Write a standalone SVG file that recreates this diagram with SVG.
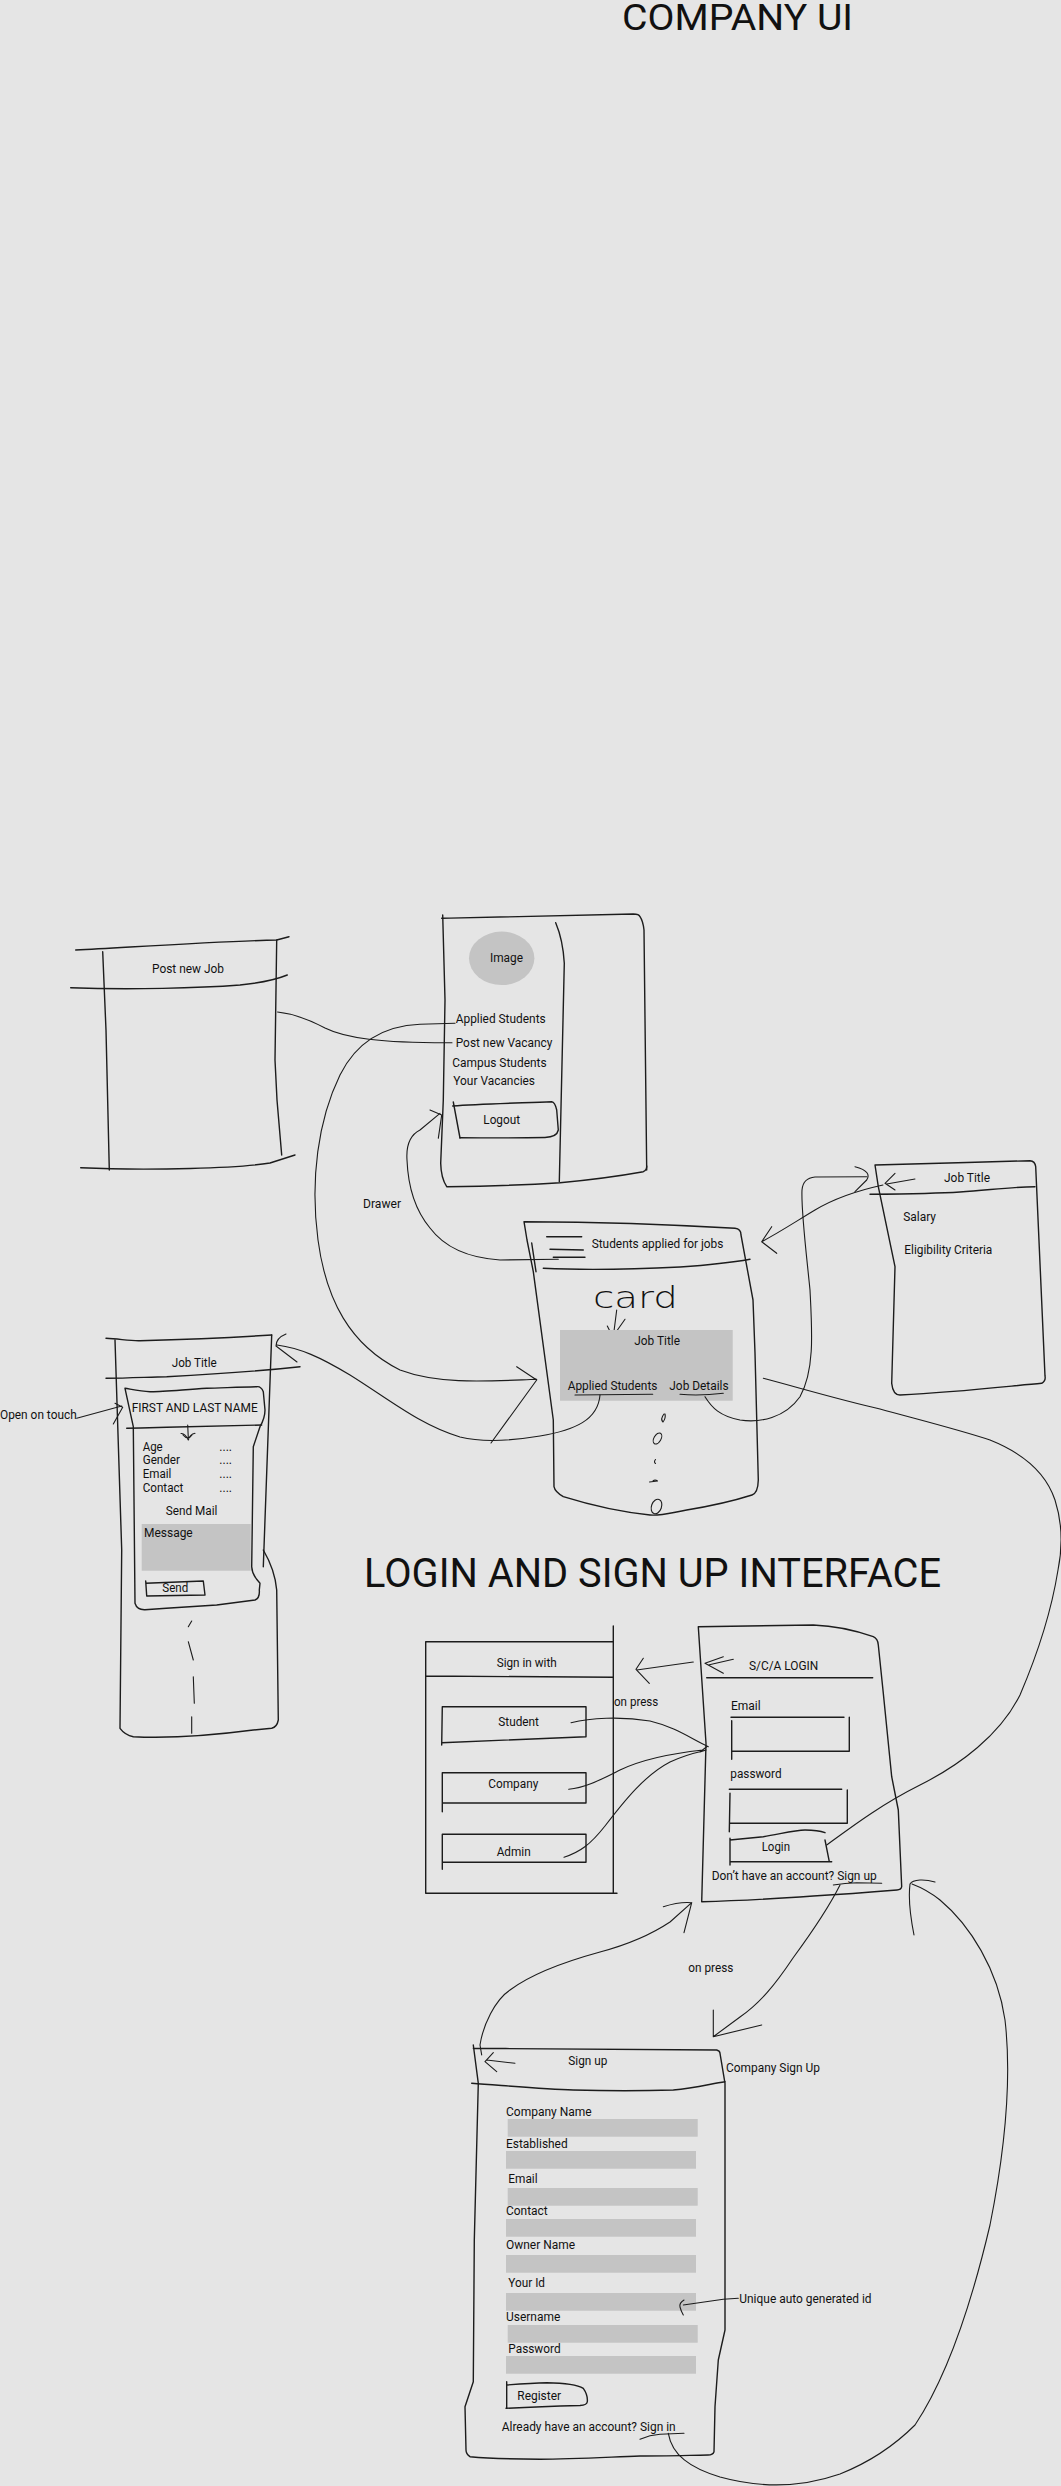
<svg xmlns="http://www.w3.org/2000/svg" width="1061" height="2486" viewBox="0 0 1061 2486">
<style>
.s{fill:none;stroke:#1c1c1c;stroke-width:1.4;stroke-linecap:round;stroke-linejoin:round}
.c{fill:none;stroke:#1c1c1c;stroke-width:1.1;stroke-linecap:round;stroke-linejoin:round}
.g{fill:#c4c4c4;stroke:none}
text{font-family:Roboto,"Liberation Sans",sans-serif;fill:#111;font-size:12px}
.m{text-anchor:middle}
.h{font-size:40px}
</style>
<rect x="0" y="0" width="1061" height="2486" fill="#e5e5e5"/>

<text class="h" x="622" y="29.5" style="font-size:37px" textLength="231" lengthAdjust="spacingAndGlyphs">COMPANY UI</text>
<text class="h" x="364" y="1587" textLength="577" lengthAdjust="spacingAndGlyphs">LOGIN AND SIGN UP INTERFACE</text>

<g id="post-job">
<path class="s" d="M75.7,950 C150,946 230,941 276.7,940 L289,936.7"/>
<path class="s" d="M102.7,951.7 L106,1030 L109.3,1170"/>
<path class="s" d="M276.7,940 L275,1060 L277,1100 L281.7,1155"/>
<path class="s" d="M70.7,987.7 C130,990 200,988 240,985 C260,983 275,980 287.3,975"/>
<path class="s" d="M80.7,1167.7 C150,1171 240,1168 270,1163 L295,1155"/>
<text x="152" y="973" textLength="72" lengthAdjust="spacingAndGlyphs">Post new Job</text>
</g>

<g id="drawer">
<path class="s" d="M441.7,918.3 C520,917 600,915 633.3,914 Q639,914 640,916.7 Q643,921 644,930 L646.7,1170"/>
<path class="s" d="M442.7,915 L445,1000 L443.3,1100 L440.7,1163.3 Q441,1178 446.7,1186.7 C500,1186 540,1184 560,1182.7 C600,1179 625,1175 643.3,1171.7 Q647,1170 646.7,1166"/>
<path class="s" d="M555.7,922.7 Q563,940 564.3,963.3 L559.3,1181.7"/>
<ellipse class="g" cx="501.7" cy="958.3" rx="32.7" ry="26.7"/>
<text x="490" y="962" textLength="33" lengthAdjust="spacingAndGlyphs">Image</text>
<text x="455.7" y="1023.3" textLength="90" lengthAdjust="spacingAndGlyphs">Applied Students</text>
<text x="455.7" y="1046.7" textLength="96.7" lengthAdjust="spacingAndGlyphs">Post new Vacancy</text>
<text x="452.3" y="1066.7" textLength="94.3" lengthAdjust="spacingAndGlyphs">Campus Students</text>
<text x="453.3" y="1085" textLength="81.7" lengthAdjust="spacingAndGlyphs">Your Vacancies</text>
<path class="s" d="M452.7,1106 C480,1104 520,1103 551.7,1101.7 Q555,1102 556.7,1110 L558.3,1130 Q557,1137 545,1137.5 C520,1138 490,1138 460,1137.7"/>
<path class="s" d="M453.3,1102 L460,1138"/>
<text x="483.3" y="1124" textLength="36.7" lengthAdjust="spacingAndGlyphs">Logout</text>
</g>

<g id="card-screen">
<path class="s" d="M524,1221.7 C600,1222 680,1225 735,1228.3 Q741,1229 741,1235 L753,1300 L755,1353 L758.3,1480 Q758,1493 752,1495 C730,1502 705,1507 686.7,1510 C670,1513 660,1516 650,1515 C620,1512 590,1505 563.3,1496.7 Q555,1492 554,1486.7 L553.3,1420 L533.3,1271.7 L527,1240 Z"/>
<path class="s" d="M543.3,1268.3 C580,1270 640,1269 680,1267 C710,1265 735,1262 750,1259.3"/>
<path class="s" d="M531.7,1243 L536,1271.7"/>
<path class="s" d="M546.7,1236.7 L581.7,1236.7 M550,1249.3 L583.3,1250 M553.3,1257.3 L585,1257.3"/>
<text x="591.7" y="1248.3" textLength="131.7" lengthAdjust="spacingAndGlyphs">Students applied for jobs</text>
<text x="593" y="1308" style="font-family:'DejaVu Sans',sans-serif;font-size:30px;font-weight:200" textLength="85" lengthAdjust="spacingAndGlyphs">card</text>
<path class="c" d="M616.7,1310 L613.3,1336.7 M607.3,1326 L612.7,1336.7 L625,1319.3"/>
<rect class="g" x="560" y="1330" width="172.7" height="70.7"/>
<text x="634.3" y="1345" textLength="45.7" lengthAdjust="spacingAndGlyphs">Job Title</text>
<text x="567.7" y="1390" textLength="89.7" lengthAdjust="spacingAndGlyphs">Applied Students</text>
<text x="669.3" y="1390" textLength="59.3" lengthAdjust="spacingAndGlyphs">Job Details</text>
<path class="c" d="M575,1395 L652.7,1394.3 M680,1394.3 Q700,1396 723.3,1393.3"/>
<path class="c" d="M664,1414 Q660,1419 663,1422 Q666,1418 665,1414"/>
<ellipse class="c" cx="657.5" cy="1438.5" rx="3.5" ry="6" transform="rotate(30 657.5 1438.5)"/>
<path class="c" d="M655.5,1459.5 Q653.5,1462 655.5,1463.5"/>
<path class="c" d="M649.5,1482 L657.5,1481 Q655,1479 653,1481"/>
<ellipse class="c" cx="656.5" cy="1506.5" rx="5" ry="7.5" transform="rotate(20 656.5 1506.5)"/>
</g>

<g id="job-details">
<path class="s" d="M875,1165 L878.3,1186.7 L895,1266.7 L891.7,1383.3 Q893,1395 900,1395 C960,1392 1010,1386 1041.7,1383.3 Q1046,1381 1045,1376 L1035.7,1166.7 Q1035,1161 1030,1160.7 C980,1162 920,1164 875,1165 Z"/>
<path class="s" d="M870,1194.3 C900,1194 940,1193.3 960,1192 C990,1190 1010,1187 1035,1186.7"/>
<text x="944" y="1181.7" textLength="46" lengthAdjust="spacingAndGlyphs">Job Title</text>
<text x="903.3" y="1221" textLength="32.7" lengthAdjust="spacingAndGlyphs">Salary</text>
<text x="904.3" y="1254" textLength="88" lengthAdjust="spacingAndGlyphs">Eligibility Criteria</text>
</g>

<g id="applicants">
<path class="s" d="M106,1338.3 C120,1339 130,1341 140,1340.7 C200,1339 240,1337 271.7,1335"/>
<path class="s" d="M115,1340 L121.7,1550 L120,1728.3 Q125,1735 133.3,1736.7 C160,1738 200,1737 253.3,1730 L271.7,1728.3 Q277,1727 278.3,1720 L276.7,1590 Q275,1570 263.3,1550"/>
<path class="s" d="M271.7,1335 L263.3,1566.7"/>
<path class="s" d="M106,1378.3 C130,1378 150,1377 166.7,1376.7 C220,1374 270,1370 300,1366.7"/>
<text x="171.7" y="1366.7" textLength="45" lengthAdjust="spacingAndGlyphs">Job Title</text>
<path class="s" d="M125,1388.3 L133.3,1426.7 L135,1603.3 Q137,1610 145,1609.7 C170,1608 200,1606 216.7,1605 L255,1600 Q260,1598 259.3,1590 L260,1583.3 Q252,1575 251.7,1566.7 L253.3,1446.7 L260,1426.7 Q265,1418 265,1410 L263.3,1391.7 Q261,1386 256.7,1386.7 C240,1387 220,1388 206.7,1388.3 C180,1390 160,1392 150,1391.7 C140,1391 130,1389 125,1388.3"/>
<path class="s" d="M126.7,1428.3 C140,1428 155,1427.5 166.7,1427.3 L261.7,1425"/>
<text x="131.7" y="1412.3" textLength="126" lengthAdjust="spacingAndGlyphs">FIRST AND LAST NAME</text>
<path class="c" d="M187.7,1425 L188.3,1438 M181,1433.5 Q185,1433 188.3,1440 Q190,1434 195,1433.3 M183,1435 Q188,1441 192,1435"/>
<text x="142.7" y="1450.7" textLength="20" lengthAdjust="spacingAndGlyphs">Age</text>
<text x="142.7" y="1464.3" textLength="37.3" lengthAdjust="spacingAndGlyphs">Gender</text>
<text x="142.7" y="1478.3" textLength="28.7" lengthAdjust="spacingAndGlyphs">Email</text>
<text x="142.7" y="1492.3" textLength="40.7" lengthAdjust="spacingAndGlyphs">Contact</text>
<text x="219.3" y="1450.7">....</text>
<text x="219.3" y="1464.3">....</text>
<text x="219.3" y="1478.3">....</text>
<text x="219.3" y="1492.3">....</text>
<text x="165.7" y="1515" textLength="51.7" lengthAdjust="spacingAndGlyphs">Send Mail</text>
<rect class="g" x="141.7" y="1524" width="109" height="46.7"/>
<text x="144" y="1537.3" textLength="48.7" lengthAdjust="spacingAndGlyphs">Message</text>
<path class="s" d="M145.7,1583.3 L203.3,1581 L205,1595 L146.7,1596 M145.7,1581 L146.7,1596"/>
<text x="162.3" y="1591.7" textLength="26" lengthAdjust="spacingAndGlyphs">Send</text>
<path class="c" d="M191.7,1621 L188.3,1626.7 M188.3,1641.7 L193.3,1660 M193.3,1676.7 L194.3,1703.3 M191.7,1716.7 L191.7,1733.3"/>
<text x="0" y="1419" textLength="76.7" lengthAdjust="spacingAndGlyphs">Open on touch</text>
</g>

<g id="sign-in-with">
<path class="s" d="M425.7,1641.7 L613.3,1641.7 M613.3,1626 L613.3,1893.3 M425.7,1641.7 L425.7,1893.3 L617,1893.3 M425.7,1676 L613.3,1677.3"/>
<text x="496.7" y="1667.3" textLength="60" lengthAdjust="spacingAndGlyphs">Sign in with</text>
<path class="s" d="M442.3,1706.7 L586,1706.7 L586,1736.7 L441.7,1742.7 M442.3,1706.7 L441.7,1745"/>
<text x="498.3" y="1726" textLength="40.7" lengthAdjust="spacingAndGlyphs">Student</text>
<path class="s" d="M442.3,1772.7 L586,1772.7 L586,1803 L442.3,1803 M442.3,1772.7 L442.3,1811.7"/>
<text x="488.3" y="1788.3" textLength="50" lengthAdjust="spacingAndGlyphs">Company</text>
<path class="s" d="M442.3,1834.3 L586,1834.3 L586,1862.3 L442.3,1862.3 M442.3,1834.3 L442.3,1869.3"/>
<text x="496.7" y="1856" textLength="34" lengthAdjust="spacingAndGlyphs">Admin</text>
</g>

<g id="login">
<path class="s" d="M698.3,1626.7 C720,1626.5 760,1625.5 813.3,1625 C840,1626 860,1632 873.3,1636.7 Q878,1639 878.3,1645 L883.3,1693.3 L891.7,1776.7 L898.3,1810 L901.7,1886.7 Q901,1890 897,1890 C860,1893 830,1895 813.3,1896 C770,1899 730,1901 701.7,1901.7 L706,1743.3 Z"/>
<path class="s" d="M706.7,1677.7 L872.7,1677.7"/>
<path class="c" d="M733.3,1659.3 L708.3,1665 M723.3,1656.7 L705,1663.3 L723.3,1673.3"/>
<text x="749" y="1670" textLength="69.3" lengthAdjust="spacingAndGlyphs">S/C/A LOGIN</text>
<text x="731" y="1710" textLength="29.7" lengthAdjust="spacingAndGlyphs">Email</text>
<path class="s" d="M731,1717.3 L844,1717.3 M849.3,1717.3 L849.3,1751.3 L731.7,1751.3 M731.7,1720.7 L731.7,1759.3"/>
<text x="730.3" y="1778.3" textLength="51.3" lengthAdjust="spacingAndGlyphs">password</text>
<path class="s" d="M729.3,1789.3 L841.7,1789.3 M847.3,1790 L847.3,1823.3 L730,1823.3 M730,1793.3 L729.3,1831.7"/>
<path class="s" d="M730,1840 C745,1838.5 755,1837.5 763.3,1836.7 C780,1834 795,1830 805,1830 Q818,1830 825,1832.7 M730,1838.3 L730,1865 M730,1861.7 L831.7,1861.7 M825,1840 L829.3,1861.7"/>
<text x="761.7" y="1850.7" textLength="28.3" lengthAdjust="spacingAndGlyphs">Login</text>
<text x="711.7" y="1880" textLength="165" lengthAdjust="spacingAndGlyphs">Don’t have an account? Sign up</text>
<path class="c" d="M833.3,1885 Q845,1883 856.7,1882.7 L881.7,1883.3"/>
</g>

<g id="signup">
<path class="s" d="M473.3,2048.3 C560,2049 650,2050 716.7,2050 Q720,2051 720,2053.3 L725,2083.3 L725,2330 L718.3,2360 L715,2406.7 L714,2451.7 Q713,2455 708,2455 C680,2455.5 660,2456 640,2456 C600,2457.5 570,2459 540,2459.3 C510,2459 485,2458 470,2456.7 Q466,2454 466,2450 L465,2406.7 L473.3,2381.7 L474.3,2240 L478.3,2083.3 L473.3,2045"/>
<path class="s" d="M471.7,2083.3 C510,2086 545,2089 573.3,2090 C610,2091 640,2091 673.3,2090 C695,2088 710,2084 725,2081.7"/>
<path class="c" d="M515,2063.3 L486.7,2060 M493.3,2052.7 L485,2061.7 L496.7,2071.7"/>
<text x="568.3" y="2065" textLength="39" lengthAdjust="spacingAndGlyphs">Sign up</text>
<text x="506" y="2116" textLength="85.7" lengthAdjust="spacingAndGlyphs">Company Name</text>
<rect class="g" x="507.7" y="2119" width="190" height="17.7"/>
<text x="506" y="2147.7" textLength="61.7" lengthAdjust="spacingAndGlyphs">Established</text>
<rect class="g" x="506" y="2151" width="190" height="17.7"/>
<text x="508.3" y="2182.7" textLength="29.3" lengthAdjust="spacingAndGlyphs">Email</text>
<rect class="g" x="507.7" y="2188" width="190" height="17.7"/>
<text x="506" y="2215" textLength="41.7" lengthAdjust="spacingAndGlyphs">Contact</text>
<rect class="g" x="506" y="2219" width="190" height="17.7"/>
<text x="506" y="2249" textLength="69" lengthAdjust="spacingAndGlyphs">Owner Name</text>
<rect class="g" x="506" y="2255" width="190" height="17.7"/>
<text x="508.3" y="2286.7" textLength="36.7" lengthAdjust="spacingAndGlyphs">Your Id</text>
<rect class="g" x="506" y="2293" width="190" height="17.7"/>
<text x="506" y="2321" textLength="54.3" lengthAdjust="spacingAndGlyphs">Username</text>
<rect class="g" x="507.7" y="2325" width="190" height="17.7"/>
<text x="508.3" y="2352.7" textLength="52.3" lengthAdjust="spacingAndGlyphs">Password</text>
<rect class="g" x="506" y="2356" width="190" height="17.7"/>
<path class="s" d="M506.7,2381.7 L506.7,2408.3 M506.7,2385 C520,2384 535,2383 546.7,2382.7 C565,2383 578,2385 583.3,2388.3 Q588,2395 587.3,2401.7 Q587,2405 580,2405.5 C560,2406 530,2407 506,2408.3"/>
<text x="517.3" y="2400" textLength="43.7" lengthAdjust="spacingAndGlyphs">Register</text>
<text x="501.7" y="2430.7" textLength="174" lengthAdjust="spacingAndGlyphs">Already have an account? Sign in</text>
<path class="c" d="M640,2439.3 Q650,2435 660,2434.3 L684,2433.3"/>
<text x="726" y="2071.7" textLength="94" lengthAdjust="spacingAndGlyphs">Company Sign Up</text>
<text x="739.3" y="2303.3" textLength="132.3" lengthAdjust="spacingAndGlyphs">Unique auto generated id</text>
</g>

<g id="connectors">
<text x="363" y="1208" textLength="38" lengthAdjust="spacingAndGlyphs">Drawer</text>
<text x="614" y="1706" textLength="44.3" lengthAdjust="spacingAndGlyphs">on press</text>
<text x="688.3" y="1971.7" textLength="45" lengthAdjust="spacingAndGlyphs">on press</text>
<path class="c" d="M277.5,1012 C295,1014 310,1020 325,1028 C345,1038 380,1043 452,1042.7"/>
<path class="c" d="M455,1023.3 L420,1024.3 C380,1026 355,1045 340,1075 C318,1120 310,1180 318,1240 C326,1300 350,1345 400,1370 C440,1385 490,1381 536.7,1379.3 M516.7,1366.7 L536.7,1380 L491,1443"/>
<path class="c" d="M558.3,1259.3 L500,1260 C470,1258 445,1248 430,1228 C415,1210 408,1185 407,1160 C406,1145 410,1135 420,1130 L440,1113.3 M430,1110 L441.7,1115 L438.3,1138.3"/>
<path class="c" d="M600,1395 C598,1420 575,1430 540,1436 C510,1441 480,1442 460,1437 C420,1425 390,1400 350,1375 C320,1357 300,1348 277,1345 M286,1334 Q276,1338 276,1346 L297,1362"/>
<path class="c" d="M705,1396.7 C712,1408 720,1416 740,1420 C760,1423 785,1418 800,1396.7 C815,1370 812,1330 810,1290 C806,1250 801,1210 802,1190 Q803,1178 815,1177 L866.7,1176.7 M855,1166.7 C868,1170 870,1175 866.7,1180 L855,1191.7"/>
<path class="c" d="M915,1179 L886.7,1184 M895,1173.3 L885,1183.3 L895,1190 M883,1185 C860,1190 835,1198 815,1210 C795,1222 780,1232 761.7,1241.7 M771.7,1226.7 L761.7,1241.7 L776.7,1253.3"/>
<path class="c" d="M76.7,1418.3 L121.7,1406 M115,1403.3 L122.7,1407.3 L113.3,1424"/>
<path class="c" d="M763.3,1378.3 C800,1388 840,1400 880,1409 C920,1420 960,1430 990,1440 C1020,1452 1045,1470 1055,1500 C1063,1525 1062,1550 1058,1570 C1050,1620 1035,1660 1020,1695 C1000,1735 960,1765 920,1785 C880,1805 850,1828 826.7,1845"/>
<path class="c" d="M693.3,1662 L636.7,1670 M643.3,1658.3 L636,1669.3 L649.3,1683.3"/>
<path class="c" d="M571,1722.7 C590,1718 620,1716 650,1721 C675,1727 690,1738 708.3,1746.7 M568.7,1789.3 C585,1788 600,1780 620,1770 C645,1758 675,1753 703,1750 M564,1857.3 C580,1852 590,1845 605,1826 C625,1800 645,1775 670,1762 Q685,1755 703,1751 M706.7,1746.7 L700,1752 L706,1750"/>
<path class="c" d="M840,1885 C830,1905 815,1928 793,1958 C775,1985 760,2003 740,2017 L713.3,2036.7 M713.3,2010 L713.3,2036.7 L761.7,2025"/>
<path class="c" d="M481.7,2055 L480,2045 C483,2025 495,2000 510,1990 C530,1975 560,1963 600,1952 C630,1944 655,1932 670,1922 L691.7,1902.7 M663.3,1906.7 C675,1903 685,1902 691.7,1902.7 L684,1932.7"/>
<path class="c" d="M668.3,2433.3 C672,2455 690,2468 720,2477 C760,2488 800,2488 840,2474 C870,2462 895,2445 915,2425 C945,2380 970,2310 990,2225 C1005,2150 1012,2080 1005,2020 C998,1970 970,1925 940,1900 C930,1892 920,1887 912,1884 M935,1882 C925,1879 913,1879 910,1884 C908,1900 911,1920 914,1935"/>
<path class="c" d="M738.3,2298.3 L723.3,2299.3 L683.3,2305 M684,2300 Q679,2303 680,2307 Q681,2311 683.3,2315"/>
</g>
</svg>
